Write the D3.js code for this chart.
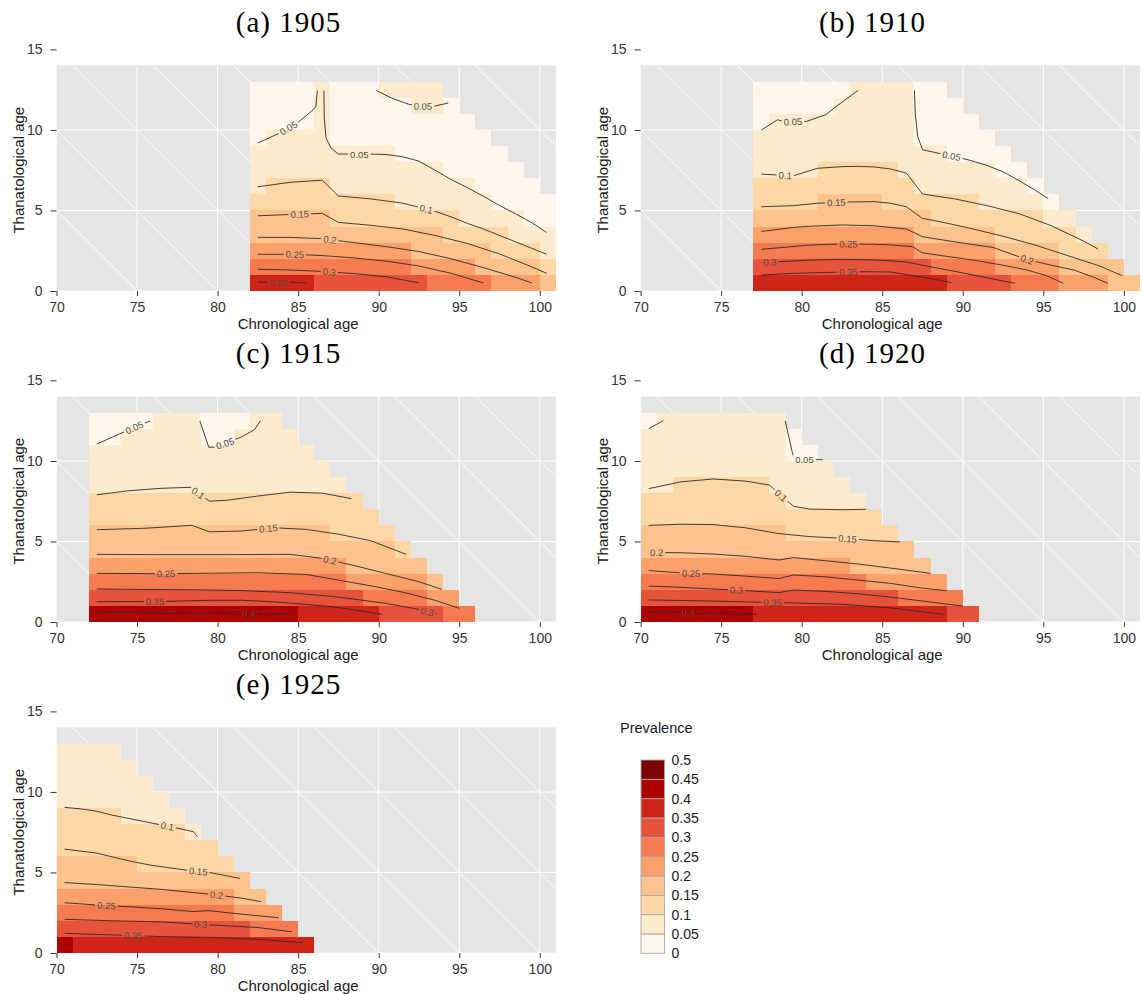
<!DOCTYPE html>
<html><head><meta charset="utf-8">
<script src="https://cdn.jsdelivr.net/npm/d3@7"></script>
<style>
body{margin:0;background:#fff;}
svg text{font-family:"Liberation Sans",Arial,Helvetica,sans-serif;}
</style></head><body>
<svg id="chart" width="1142" height="994"></svg>
<script>
// ---------- DATA ----------
// axis ticks
const xTicks = [70, 75, 80, 85, 90, 95, 100];
const yTicks = [0, 5, 10, 15];
// prevalence classes and legend labels
const classBreaks = [0.05, 0.1, 0.15, 0.2, 0.25, 0.3, 0.35, 0.4, 0.45];
const legendLabels = ["0","0.05","0.1","0.15","0.2","0.25","0.3","0.35","0.4","0.45","0.5"];
// birth cohorts
const cohorts = ["(a) 1905", "(b) 1910", "(c) 1915", "(d) 1920", "(e) 1925"];
const firstAges = [82, 77, 72, 70, 70];

// tile prevalence: rows = thanatological age 0..12, columns = chronological age from firstAge
const tilesA = [
 [.37,.37,.37,.37,.33,.33,.33,.33,.33,.33,.33,.28,.28,.28,.28,.22,.22,.22,.18],
 [.28,.28,.28,.28,.28,.28,.28,.28,.28,.28,.22,.22,.22,.22,.18,.18,.18,.18,.13],
 [.22,.22,.22,.22,.22,.22,.22,.22,.22,.22,.18,.18,.18,.18,.18,.13,.13,.13,.08],
 [.18,.18,.18,.18,.18,.18,.18,.18,.18,.18,.18,.18,.13,.13,.13,.13,.08,.08,.08],
 [.18,.18,.18,.18,.18,.13,.13,.13,.13,.13,.13,.13,.13,.08,.08,.08,.08,.03,.03],
 [.13,.13,.13,.13,.13,.13,.13,.13,.13,.08,.08,.08,.08,.08,.08,.03,.03,.03,.03],
 [.08,.13,.13,.13,.13,.08,.08,.08,.08,.08,.08,.08,.08,.08,.03,.03,.03,.03],
 [.08,.08,.08,.08,.08,.08,.08,.08,.08,.08,.08,.08,.03,.03,.03,.03,.03],
 [.08,.08,.08,.08,.08,.08,.08,.08,.08,.03,.03,.03,.03,.03,.03,.03],
 [.03,.08,.08,.08,.08,.03,.03,.03,.03,.03,.03,.03,.03,.03,.03],
 [.03,.03,.03,.03,.08,.03,.03,.03,.03,.03,.03,.03,.03,.03],
 [.03,.03,.03,.03,.08,.03,.03,.03,.03,.03,.08,.08,.03],
 [.03,.03,.03,.03,.08,.03,.03,.03,.08,.08,.08,.08]
];
const tilesB = [
 [.37,.37,.37,.37,.37,.37,.37,.37,.37,.37,.37,.37,.33,.33,.33,.33,.28,.28,.28,.22,.22,.22,.18,.18],
 [.33,.33,.33,.33,.33,.33,.33,.33,.33,.33,.33,.28,.28,.28,.28,.22,.22,.22,.22,.18,.18,.18,.18],
 [.28,.28,.28,.28,.28,.28,.28,.28,.28,.28,.22,.22,.22,.22,.22,.18,.18,.18,.18,.13,.13,.13],
 [.22,.22,.22,.22,.22,.22,.22,.22,.22,.22,.18,.18,.18,.18,.18,.13,.13,.13,.13,.13,.08],
 [.18,.18,.18,.18,.18,.18,.18,.18,.18,.18,.18,.13,.13,.13,.13,.13,.13,.13,.08,.08],
 [.13,.13,.13,.13,.18,.18,.18,.18,.13,.13,.13,.13,.13,.13,.08,.08,.08,.08,.03],
 [.13,.13,.13,.13,.13,.13,.13,.13,.13,.13,.08,.08,.08,.08,.08,.08,.08,.03],
 [.08,.08,.08,.08,.13,.13,.13,.13,.13,.08,.08,.08,.08,.08,.08,.03,.03],
 [.08,.08,.08,.08,.08,.08,.08,.08,.08,.08,.08,.08,.03,.03,.03,.03],
 [.08,.08,.08,.08,.08,.08,.08,.08,.08,.08,.03,.03,.03,.03,.03],
 [.03,.08,.08,.08,.08,.08,.08,.08,.08,.08,.03,.03,.03,.03],
 [.03,.03,.03,.03,.03,.08,.08,.08,.08,.08,.03,.03,.03],
 [.03,.03,.03,.03,.03,.03,.08,.08,.08,.08,.03,.03]
];
const tilesC = [
 [.42,.42,.42,.42,.42,.42,.42,.42,.42,.42,.42,.42,.42,.37,.37,.37,.37,.37,.33,.33,.33,.33,.28,.28],
 [.33,.33,.33,.33,.33,.33,.33,.33,.33,.33,.33,.33,.33,.33,.33,.33,.33,.28,.28,.28,.28,.22,.22],
 [.28,.28,.28,.28,.28,.28,.28,.28,.28,.28,.28,.28,.28,.28,.28,.28,.22,.22,.22,.22,.22,.18],
 [.22,.22,.22,.22,.22,.22,.22,.22,.22,.22,.22,.22,.22,.22,.22,.22,.18,.18,.18,.18,.18],
 [.18,.18,.18,.18,.18,.18,.18,.18,.18,.18,.18,.18,.18,.18,.18,.18,.18,.18,.18,.13],
 [.18,.18,.18,.18,.18,.18,.18,.18,.18,.18,.18,.18,.18,.18,.18,.13,.13,.13,.13],
 [.13,.13,.13,.13,.13,.13,.13,.13,.13,.13,.13,.13,.13,.13,.13,.13,.13,.13],
 [.13,.13,.13,.13,.13,.13,.13,.13,.13,.13,.13,.13,.13,.13,.13,.13,.13],
 [.08,.08,.08,.08,.08,.08,.08,.08,.08,.08,.08,.08,.08,.08,.08,.08],
 [.08,.08,.08,.08,.08,.08,.08,.08,.08,.08,.08,.08,.08,.08,.08],
 [.08,.08,.08,.08,.08,.08,.08,.08,.08,.08,.08,.08,.08,.08],
 [.03,.03,.08,.08,.08,.08,.08,.03,.03,.08,.08,.08,.08],
 [.03,.03,.03,.03,.08,.08,.08,.03,.03,.03,.08,.08]
];
const tilesD = [
 [.42,.42,.42,.42,.42,.42,.42,.37,.37,.37,.37,.37,.37,.37,.37,.37,.37,.37,.37,.33,.33],
 [.33,.33,.33,.33,.33,.33,.33,.33,.33,.33,.33,.33,.33,.33,.33,.33,.28,.28,.28,.28],
 [.28,.28,.28,.28,.28,.28,.28,.28,.28,.28,.28,.28,.28,.28,.22,.22,.22,.22,.22],
 [.22,.22,.22,.22,.22,.22,.22,.22,.22,.22,.22,.22,.22,.18,.18,.18,.18,.18],
 [.18,.18,.18,.18,.18,.18,.18,.18,.18,.18,.18,.18,.18,.18,.18,.18,.18],
 [.18,.18,.18,.18,.18,.18,.18,.18,.18,.13,.13,.13,.13,.13,.13,.13],
 [.13,.13,.13,.13,.13,.13,.13,.13,.13,.13,.13,.13,.13,.13,.13],
 [.13,.13,.13,.13,.13,.13,.13,.13,.13,.08,.08,.08,.08,.08],
 [.08,.08,.13,.13,.13,.13,.13,.13,.08,.08,.08,.08,.08],
 [.08,.08,.08,.08,.08,.08,.08,.08,.08,.08,.08,.08],
 [.08,.08,.08,.08,.08,.08,.08,.08,.08,.03,.03],
 [.08,.08,.08,.08,.08,.08,.08,.08,.08,.03],
 [.03,.08,.08,.08,.08,.08,.08,.08,.08]
];
const tilesE = [
 [.42,.37,.37,.37,.37,.37,.37,.37,.37,.37,.37,.37,.37,.37,.37,.37],
 [.33,.33,.33,.33,.33,.33,.33,.33,.33,.33,.33,.33,.28,.28,.28],
 [.28,.28,.28,.28,.28,.28,.28,.28,.28,.28,.28,.22,.22,.22],
 [.22,.22,.22,.22,.22,.22,.22,.22,.22,.22,.22,.18,.18],
 [.18,.18,.18,.18,.18,.18,.18,.18,.18,.18,.18,.18],
 [.18,.18,.18,.18,.18,.13,.13,.13,.13,.13,.13],
 [.13,.13,.13,.13,.13,.13,.13,.13,.13,.13],
 [.13,.13,.13,.13,.13,.13,.13,.13,.08],
 [.13,.13,.13,.13,.08,.08,.08,.08],
 [.08,.08,.08,.08,.08,.08,.08],
 [.08,.08,.08,.08,.08,.08],
 [.08,.08,.08,.08,.08],
 [.08,.08,.08,.08]
];

// contour lines: level, label position (chronological age), points [age, thanatological age]
const contoursA = [
 {level:0.05, lab:84.4, pts:[[82.5,9.19],[83.87,9.81],[85.0,10.47],[85.94,11.26],[86.1,11.46],[86.19,12.44]]},
 {level:0.05, lab:88.8, pts:[[86.6,12.44],[86.62,10.74],[86.73,9.5],[87.04,8.88],[87.49,8.5],[88.5,8.5],[89.5,8.5],[90.5,8.47],[91.5,8.33],[92.5,8.06],[93.5,7.5],[94.5,6.92],[95.5,6.42],[96.5,5.88],[97.5,5.31],[98.5,4.79],[99.5,4.24],[100.42,3.64]]},
 {level:0.05, lab:92.75, pts:[[89.87,12.44],[90.8,11.98],[91.84,11.6],[92.5,11.48],[93.39,11.46],[94.32,11.67]]},
 {level:0.1, lab:92.95, pts:[[82.5,6.47],[84.5,6.75],[86.5,6.88],[87.5,5.9],[89.5,5.72],[91.5,5.45],[92.5,5.2],[93.5,4.95],[94.5,4.6],[95.5,4.2],[96.5,3.85],[97.5,3.45],[98.5,3.05],[99.5,2.65],[100.42,2.28]]},
 {level:0.15, lab:85.1, pts:[[82.5,4.67],[84.5,4.75],[86.5,4.82],[87.5,4.26],[89.5,4.08],[91.5,3.85],[93.5,3.45],[95.5,2.95],[97.5,2.3],[99.5,1.5],[100.42,1.1]]},
 {level:0.2, lab:86.97, pts:[[82.5,3.33],[84.5,3.33],[86.5,3.25],[88.5,3.0],[90.5,2.75],[92.5,2.45],[94.5,2.0],[96.5,1.45],[98.5,0.85],[99.5,0.5]]},
 {level:0.25, lab:84.8, pts:[[82.5,2.28],[84.5,2.28],[86.5,2.2],[88.5,2.05],[90.5,1.85],[92.5,1.55],[94.5,1.1],[96.5,0.5]]},
 {level:0.3, lab:86.93, pts:[[82.5,1.35],[84.5,1.3],[86.5,1.22],[88.5,1.08],[90.5,0.88],[92.5,0.5]]},
 {level:0.35, lab:83.77, pts:[[82.5,0.55],[84.5,0.55],[85.5,0.5]]}
];
const contoursB = [
 {level:0.05, lab:79.46, pts:[[77.5,10.0],[78.5,10.63],[79.0,10.5],[80.3,10.53],[81.5,10.95],[82.15,11.46],[83.5,12.46]]},
 {level:0.05, lab:89.3, pts:[[87.0,12.45],[87.05,11.0],[87.2,9.6],[87.5,8.77],[88.5,8.55],[89.5,8.35],[90.5,8.1],[91.5,7.8],[92.5,7.4],[93.5,6.85],[94.5,6.25],[95.3,5.74]]},
 {level:0.1, lab:78.98, pts:[[77.5,7.26],[78.5,7.2],[79.5,7.16],[81.0,7.62],[82.5,7.72],[83.5,7.74],[84.5,7.7],[85.5,7.58],[86.5,7.32],[87.5,6.02],[89.5,5.72],[91.5,5.3],[93.5,4.8],[95.5,4.05],[97.5,3.1],[98.4,2.6]]},
 {level:0.15, lab:82.15, pts:[[77.5,5.23],[79.5,5.3],[81.0,5.45],[82.5,5.52],[84.5,5.55],[85.5,5.45],[86.5,5.23],[87.5,4.5],[88.0,4.42],[90.0,4.0],[92.5,3.4],[94.5,2.85],[96.5,2.2],[98.5,1.55],[99.9,0.95]]},
 {level:0.2, lab:94.0, pts:[[77.5,3.7],[79.5,3.95],[80.5,4.02],[82.5,4.1],[84.5,4.05],[86.5,3.85],[87.5,3.37],[89.5,3.05],[91.9,2.7],[93.0,2.3],[94.0,1.95],[95.5,1.6],[96.9,1.3],[98.0,0.9],[99.0,0.48]]},
 {level:0.25, lab:82.9, pts:[[77.5,2.59],[78.65,2.69],[80.5,2.85],[82.4,2.92],[84.5,2.9],[85.5,2.86],[86.9,2.75],[87.45,2.38],[89.0,2.15],[90.65,1.92],[92.5,1.6],[94.0,1.3],[95.2,0.95],[96.24,0.48]]},
 {level:0.3, lab:78.03, pts:[[77.5,1.76],[78.6,1.82],[80.5,1.92],[82.4,1.97],[84.5,1.93],[85.5,1.88],[86.5,1.8],[87.96,1.51],[89.5,1.22],[90.65,0.99],[92.0,0.72],[93.24,0.48]]},
 {level:0.35, lab:82.9, pts:[[77.5,0.99],[79.5,1.1],[81.5,1.15],[83.5,1.2],[85.5,1.18],[87.3,0.89],[89.3,0.52]]}
];
const contoursC = [
 {level:0.05, lab:74.83, pts:[[72.5,11.05],[73.9,11.67],[75.0,12.15],[75.8,12.48]]},
 {level:0.05, lab:80.46, pts:[[78.9,12.48],[79.45,10.85],[79.8,10.85],[80.5,11.1],[81.5,11.5],[82.3,11.95],[82.65,12.48]]},
 {level:0.1, lab:78.8, pts:[[72.5,7.9],[74.5,8.15],[76.5,8.3],[78.3,8.36],[79.5,7.5],[80.5,7.55],[82.5,7.82],[84.5,8.06],[86.5,8.0],[88.3,7.66]]},
 {level:0.15, lab:83.15, pts:[[72.5,5.73],[75.5,5.82],[78.4,6.0],[79.5,5.6],[81.5,5.65],[83.5,5.85],[85.5,5.75],[87.5,5.45],[89.5,5.05],[91.7,4.2]]},
 {level:0.2, lab:86.98, pts:[[72.5,4.2],[76.5,4.18],[80.5,4.18],[84.5,4.2],[86.5,3.95],[88.5,3.5],[90.5,3.0],[92.5,2.5],[93.9,2.03]]},
 {level:0.25, lab:76.8, pts:[[72.5,3.02],[76.5,3.0],[79.5,3.03],[82.5,3.06],[85.5,2.95],[87.5,2.6],[89.5,2.25],[91.5,1.85],[93.5,1.35],[95.0,0.85]]},
 {level:0.3, lab:93.02, pts:[[72.5,2.05],[75.5,2.02],[78.5,2.0],[81.5,1.95],[84.5,1.82],[87.5,1.55],[90.5,1.15],[92.5,0.78],[93.6,0.5]]},
 {level:0.35, lab:76.11, pts:[[72.5,1.26],[76.5,1.27],[79.5,1.35],[81.5,1.35],[83.5,1.25],[85.5,1.1],[87.5,0.9],[90.2,0.48]]},
 {level:0.4, lab:81.95, pts:[[72.5,0.6],[76.5,0.58],[80.5,0.55],[84.6,0.5]]}
];
const contoursD = [
 {level:0.05, lab:null, pts:[[70.5,12.0],[71.41,12.5]]},
 {level:0.05, lab:80.17, pts:[[78.98,12.48],[79.2,11.5],[79.4,10.6],[79.55,10.08],[81.3,10.08]]},
 {level:0.1, lab:78.72, pts:[[70.5,8.28],[72.5,8.7],[74.5,8.88],[76.5,8.75],[78.0,8.5],[79.0,7.6],[79.5,7.18],[80.5,7.01],[82.5,6.97],[84.0,7.0]]},
 {level:0.15, lab:82.85, pts:[[70.5,6.0],[72.5,6.07],[74.5,6.05],[76.5,5.85],[78.5,5.5],[80.5,5.3],[82.5,5.2],[84.5,5.05],[86.1,4.97]]},
 {level:0.2, lab:71.0, pts:[[70.5,4.32],[72.5,4.3],[74.5,4.22],[76.5,4.08],[78.6,3.85],[79.5,4.0],[81.5,3.8],[83.5,3.6],[85.5,3.35],[88.0,3.02]]},
 {level:0.25, lab:73.13, pts:[[70.5,3.19],[72.5,3.05],[74.5,2.98],[76.5,2.85],[78.6,2.7],[79.5,2.92],[81.5,2.8],[83.5,2.6],[85.5,2.4],[87.5,2.1],[89.0,1.94]]},
 {level:0.3, lab:75.96, pts:[[70.5,2.23],[72.5,2.15],[74.5,2.05],[76.5,1.95],[78.6,1.82],[79.5,1.98],[81.5,1.9],[83.5,1.75],[85.5,1.55],[87.5,1.3],[89.5,1.05],[90.0,0.99]]},
 {level:0.35, lab:78.2, pts:[[70.5,1.37],[73.5,1.32],[76.5,1.25],[79.5,1.18],[82.5,1.1],[85.5,0.88],[88.8,0.48]]},
 {level:0.4, lab:72.96, pts:[[70.5,0.64],[73.5,0.58],[75.5,0.55],[77.2,0.48]]}
];
const contoursE = [
 {level:0.1, lab:76.88, pts:[[70.5,9.04],[71.5,8.95],[72.5,8.8],[73.5,8.55],[74.5,8.35],[75.5,8.15],[76.5,7.95],[77.5,7.75],[78.5,7.53],[78.75,7.22]]},
 {level:0.15, lab:78.8, pts:[[70.5,6.45],[72.5,6.2],[74.5,5.72],[75.8,5.46],[78.3,5.11],[79.5,5.0],[81.4,4.63]]},
 {level:0.2, lab:79.94, pts:[[70.5,4.37],[72.5,4.25],[74.5,4.1],[76.5,3.95],[78.5,3.75],[80.0,3.6],[81.5,3.4],[82.7,3.19]]},
 {level:0.25, lab:73.1, pts:[[70.5,3.12],[72.5,2.98],[74.5,2.87],[76.5,2.75],[78.5,2.57],[79.4,2.63],[81.0,2.46],[83.8,2.19]]},
 {level:0.3, lab:78.95, pts:[[70.5,2.09],[73.5,2.0],[76.5,1.93],[79.5,1.75],[82.5,1.58],[84.6,1.32]]},
 {level:0.35, lab:74.77, pts:[[70.5,1.22],[73.5,1.12],[76.5,1.02],[79.5,0.97],[82.5,0.85],[85.3,0.64]]}
];

// ---------- LAYOUT ----------
const W = 499.4, H = 225.5;
const layout = [
  {left:56.5, base:291}, {left:640.6, base:291},
  {left:56.5, base:622}, {left:640.6, base:622},
  {left:56.5, base:953}
];
const tileSets = [tilesA, tilesB, tilesC, tilesD, tilesE];
const contourSets = [contoursA, contoursB, contoursC, contoursD, contoursE];

const ramp = d3.piecewise(d3.interpolateRgb, d3.schemeOrRd[9]);
const fills = d3.range(10).map(i => ramp(i / 9));
const color = d3.scaleThreshold().domain(classBreaks).range(fills);

const x = d3.scaleLinear().domain([70, 101]).range([0, W]);
const y = d3.scaleLinear().domain([0, 14]).range([H, 0]);
const line = d3.line().x(d => x(d[0])).y(d => y(d[1]));

const svg = d3.select("#chart");

function locate(pts, age) {
  for (let i = 0; i < pts.length - 1; i++) {
    const [a0, t0] = pts[i], [a1, t1] = pts[i + 1];
    if (a0 !== a1 && (age - a0) * (age - a1) <= 0) {
      const f = (age - a0) / (a1 - a0);
      const tt = t0 + f * (t1 - t0);
      let ang = Math.atan2(y(t1) - y(t0), x(a1) - x(a0)) * 180 / Math.PI;
      if (ang > 90) ang -= 180;
      if (ang < -90) ang += 180;
      return {px: x(age), py: y(tt), ang};
    }
  }
  return null;
}

cohorts.forEach((title, pi) => {
  const L = layout[pi];
  const top = L.base - H;
  // panel title
  svg.append("text")
    .attr("x", L.left + 232).attr("y", L.base - 259.5)
    .attr("text-anchor", "middle")
    .style("font-family", '"Liberation Serif","Times New Roman",serif')
    .attr("font-size", 29).attr("letter-spacing", 1).attr("fill", "#000")
    .text(title);

  const g = svg.append("g").attr("transform", `translate(${L.left},${top})`);
  g.append("rect").attr("width", W).attr("height", H).attr("fill", "#E5E5E5");
  const clipId = "clip" + pi;
  g.append("clipPath").attr("id", clipId).append("rect").attr("width", W).attr("height", H);
  const grid = g.append("g").attr("clip-path", `url(#${clipId})`);
  grid.selectAll("line.v").data(xTicks).join("line").attr("class", "v")
    .attr("x1", d => x(d)).attr("x2", d => x(d)).attr("y1", 0).attr("y2", H)
    .attr("stroke", "#fff").attr("stroke-width", 1.1);
  grid.selectAll("line.h").data([0, 5, 10]).join("line").attr("class", "h")
    .attr("x1", 0).attr("x2", W).attr("y1", d => y(d)).attr("y2", d => y(d))
    .attr("stroke", "#fff").attr("stroke-width", 1.1);
  // lines of equal age at death (chronological + thanatological age)
  const diag = d3.range(75, 120, 5).map(k => {
    const a0 = Math.max(70, k - 14), a1 = Math.min(101, k);
    return a0 < a1 ? [[a0, k - a0], [a1, k - a1]] : null;
  }).filter(Boolean);
  grid.selectAll("line.d").data(diag).join("line").attr("class", "d")
    .attr("x1", d => x(d[0][0])).attr("y1", d => y(d[0][1]))
    .attr("x2", d => x(d[1][0])).attr("y2", d => y(d[1][1]))
    .attr("stroke", "#fff").attr("stroke-width", 0.9);

  // tiles
  const cells = tileSets[pi].flatMap((row, r) => row.map((v, i) => ({age: firstAges[pi] + i, ttd: r, v})));
  g.append("g").attr("shape-rendering", "crispEdges")
    .selectAll("rect").data(cells).join("rect")
    .attr("x", d => x(d.age)).attr("y", d => y(d.ttd + 1))
    .attr("width", d => x(d.age + 1) - x(d.age)).attr("height", d => y(d.ttd) - y(d.ttd + 1))
    .attr("fill", d => color(d.v));

  // contours with label gaps
  const maskId = "mask" + pi;
  const mask = g.append("mask").attr("id", maskId).attr("maskUnits", "userSpaceOnUse")
    .attr("x", -30).attr("y", -30).attr("width", W + 60).attr("height", H + 60);
  mask.append("rect").attr("x", -30).attr("y", -30).attr("width", W + 60).attr("height", H + 60).attr("fill", "#fff");
  const cg = g.append("g");
  cg.append("g").attr("mask", `url(#${maskId})`)
    .selectAll("path").data(contourSets[pi]).join("path")
    .attr("d", d => line(d.pts)).attr("fill", "none")
    .attr("stroke", "#2b2b2b").attr("stroke-width", 0.9).attr("stroke-linejoin", "round");
  const labG = cg.append("g");
  contourSets[pi].filter(c => c.lab != null).forEach(c => {
    const pos = locate(c.pts, c.lab);
    if (!pos) return;
    const tr = `translate(${pos.px},${pos.py}) rotate(${pos.ang})`;
    const t = labG.append("text").attr("transform", tr)
      .attr("text-anchor", "middle").attr("dominant-baseline", "central")
      .attr("font-size", 9.5).attr("fill", "#4a4a4a").text(String(c.level));
    const w = t.node().getComputedTextLength();
    mask.append("rect").attr("transform", tr)
      .attr("x", -w / 2 - 2).attr("y", -4.8).attr("width", w + 4).attr("height", 9.6).attr("fill", "#000");
  });

  // axes
  const xa = g.append("g").attr("transform", `translate(0,${H})`)
    .call(d3.axisBottom(x).tickValues(xTicks).tickSize(5).tickPadding(6));
  const ya = g.append("g")
    .call(d3.axisLeft(y).tickValues(yTicks).tickSize(6).tickPadding(8));
  [xa, ya].forEach(a => {
    a.select(".domain").remove();
    a.attr("font-family", null).attr("font-size", null).attr("color", "#333");
    a.selectAll("text").attr("font-size", 14).attr("fill", "#333");
  });
  g.append("text").attr("x", x(85)).attr("y", H + 37.5)
    .attr("text-anchor", "middle").attr("font-size", 15).attr("fill", "#1a1a1a")
    .text("Chronological age");
  g.append("text").attr("transform", `translate(-33,${y(7.5)}) rotate(-90)`)
    .attr("text-anchor", "middle").attr("font-size", 15).attr("fill", "#1a1a1a")
    .text("Thanatological age");
});

// ---------- LEGEND ----------
const legY = d3.scaleLinear().domain([0, 0.5]).range([193.3, 0]);
const lg = svg.append("g").attr("transform", "translate(641,760)");
svg.append("text").attr("x", 620).attr("y", 733).attr("font-size", 14.5).attr("fill", "#1a1a1a").text("Prevalence");
lg.selectAll("rect").data(fills).join("rect")
  .attr("x", 0).attr("y", (d, i) => legY((i + 1) * 0.05))
  .attr("width", 23.5).attr("height", (d, i) => legY(i * 0.05) - legY((i + 1) * 0.05))
  .attr("fill", d => d).attr("stroke", "#a8a8a8").attr("stroke-width", 0.9);
lg.selectAll("text").data(legendLabels).join("text")
  .attr("x", 30.5).attr("y", (d, i) => legY(i * 0.05))
  .attr("dominant-baseline", "central").attr("font-size", 14).attr("fill", "#1a1a1a")
  .text(d => d);
</script>
</body></html>
